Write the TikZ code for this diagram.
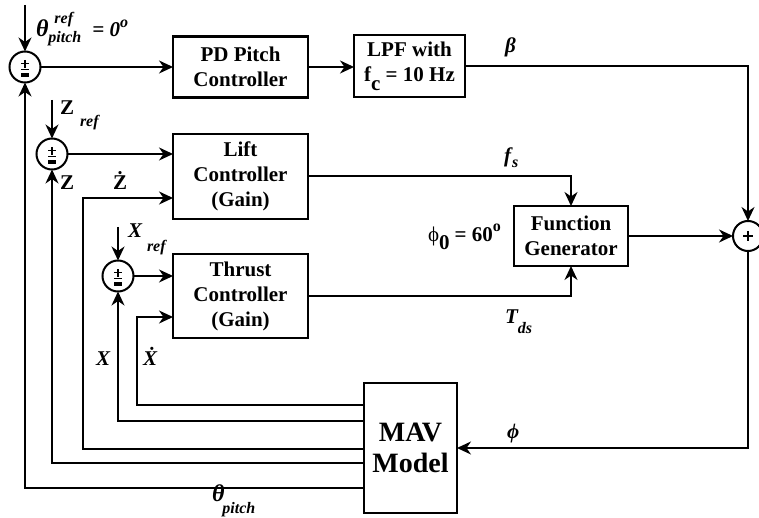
\documentclass[tikz,border=0pt]{standalone}
\usepackage{fontspec}
\setmainfont{Liberation Serif}
\usetikzlibrary{arrows.meta,calc}

% size used for sub- and superscripts in the signal labels
\newcommand{\subsz}{\fontsize{16}{16}\selectfont}

\begin{document}
\begin{tikzpicture}[x=1pt,y=-1pt,
  every node/.style={inner sep=0pt,outer sep=0pt},
  wire/.style={line width=2pt,line join=miter},
  sig/.style={wire,-{Stealth[length=14pt,width=13pt,inset=4.5pt]}},
  block/.style={draw,line width=2.2pt,align=center,
    font=\fontsize{21}{25}\selectfont\bfseries},
  lab/.style={anchor=base west,font=\fontsize{21}{25}\selectfont\bfseries\itshape},
  sumpm/.style={circle,draw,line width=2pt,minimum size=31pt,
    path picture={
      \coordinate (pp) at (path picture bounding box.center);
      \draw[line width=1.4pt] ([yshift=7pt]pp) -- ([yshift=-1pt]pp);
      \draw[line width=1.4pt] ([xshift=-4pt,yshift=3.5pt]pp) -- ([xshift=4pt,yshift=3.5pt]pp);
      \draw[line width=1.4pt] ([xshift=-4pt,yshift=-2.5pt]pp) -- ([xshift=4pt,yshift=-2.5pt]pp);
      \draw[line width=3.4pt] ([xshift=-4pt,yshift=-8pt]pp) -- ([xshift=4pt,yshift=-8pt]pp);
    }},
  sumpp/.style={circle,draw,line width=2pt,minimum size=30pt,
    path picture={
      \coordinate (pp) at (path picture bounding box.center);
      \draw[line width=1.4pt] ([yshift=5pt]pp) -- ([yshift=-5pt]pp);
      \draw[line width=1.4pt] ([xshift=-5pt]pp) -- ([xshift=5pt]pp);
    }}
]
\useasboundingbox (0,0) rectangle (759,518);

% summing junctions
\node[sumpm] (s1) at (25,67) {};
\node[sumpm] (sz) at (52,154) {};
\node[sumpm] (sx) at (118,276) {};
\node[sumpp] (s2) at (748,236) {};

% blocks
\node[block,minimum width=135pt,minimum height=61pt] (pd) at (240.5,67)
  {PD Pitch\\Controller};
\node[block,minimum width=111pt,minimum height=62pt] (lpf) at (409.5,66)
  {LPF with\\f\raisebox{-9pt}{c} = 10 Hz};
\node[block,minimum width=135pt,minimum height=85pt] (lift) at (240.5,176.5)
  {Lift\\Controller\\(Gain)};
\node[block,minimum width=135pt,minimum height=84pt] (thrust) at (240.5,296)
  {Thrust\\Controller\\(Gain)};
\node[block,minimum width=114pt,minimum height=60pt] (fg) at (571,236)
  {Function\\Generator};
\node[block,minimum width=93pt,minimum height=130pt,
  font=\fontsize{28}{31}\selectfont\bfseries] (mav) at (410.5,448)
  {MAV\\Model};

% reference inputs
\coordinate (thin) at (25,5);
\coordinate (zin) at (52,100);
\coordinate (xin) at (118,227);
\draw[sig] (thin) -- (s1.north);
\draw[sig] (zin) -- (sz.north);
\draw[sig] (xin) -- (sx.north);

% forward paths
\draw[sig] (s1.east) -- (s1.east -| pd.west);
\draw[sig] (pd.east) -- (pd.east -| lpf.west);
\draw[sig] (lpf.east) -| (s2.north);
\draw[sig] (sz.east) -- (sz.east -| lift.west);
\draw[sig] (sx.east) -- (sx.east -| thrust.west);
\draw[sig] (lift.east) -| (fg.north);
\draw[sig] (thrust.east) -| (fg.south);
\draw[sig] (fg.east) -- (s2.west);
\draw[sig] (s2.south) |- (mav.east);

% feedback from the MAV model
\path (mav.west) ++(0,-43) coordinate (mxd)
      (mav.west) ++(0,-27) coordinate (mx)
      (mav.west) ++(0,1)   coordinate (mzd)
      (mav.west) ++(0,15)  coordinate (mz)
      (mav.west) ++(0,40)  coordinate (mth);
\coordinate (kxd) at (137,317);
\coordinate (kzd) at (83,198);
\draw[sig] (mxd) -| (kxd) -- (kxd -| thrust.west);
\draw[sig] (mx) -| (sx.south);
\draw[sig] (mzd) -| (kzd) -- (kzd -| lift.west);
\draw[sig] (mz) -| (sz.south);
\draw[sig] (mth) -| (s1.south);

% signal labels
\node[lab] (lthref) at (36,37)
  {{\fontsize{24}{25}\selectfont θ}\rlap{\hspace{6pt}\raisebox{13pt}{\subsz ref}}\raisebox{-6pt}{\subsz pitch}\hspace{11pt}= 0\raisebox{9pt}{\subsz o}};
\node[lab] (lzref) at (60,115) {\upshape Z\hspace{6pt}\raisebox{-12pt}{\subsz\itshape ref}};
\node[lab] (lz) at (60,190) {\upshape Z};
\node[lab] (lzd) at (113,190) {\upshape Ż};
\node[lab] (lxref) at (128,238) {X\hspace{5pt}\raisebox{-14pt}{\subsz ref}};
\node[lab] (lx) at (96,365) {X};
\node[lab] (lxd) at (143,365) {Ẋ};
\node[lab] (lbeta) at (505,53) {β};
\node[lab] (lfs) at (504,163) {f\hspace{1pt}\raisebox{-5pt}{\subsz s}};
\node[lab] (ltds) at (505,323) {T\raisebox{-10pt}{\subsz ds}};
\node[lab] (lphi) at (507,438) {ϕ};
\node[lab,font=\fontsize{21}{25}\selectfont] (lphi0) at (428,242)
  {ϕ\raisebox{-8pt}{\bfseries 0}\hspace{5pt}\bfseries = 60\raisebox{10pt}{\subsz o}};
\node[lab] (lthp) at (212,501) {{\fontsize{24}{25}\selectfont θ}\hspace{-2pt}\raisebox{-12pt}{\subsz pitch}};
\end{tikzpicture}
\end{document}
